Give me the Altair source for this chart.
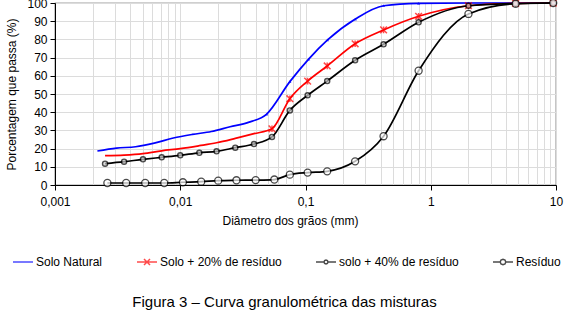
import altair as alt
import pandas as pd

FONT = "Liberation Sans"

series_names = ["Solo Natural", "Solo + 20% de resíduo", "solo + 40% de resíduo", "Resíduo"]
series_colors = ["#0000FF", "#FF0000", "#000000", "#000000"]

# Solo Natural
natural_x = [0.00218, 0.0031, 0.0044, 0.0062, 0.0088, 0.0125, 0.0177, 0.025, 0.035, 0.049,
             0.075, 0.106, 0.15, 0.25, 0.42, 0.80, 2.0, 4.76, 9.5]
natural_y = [18.7, 20.3, 21.0, 23.0, 25.8, 27.8, 29.4, 32.0, 34.4, 39.0,
             56.8, 69.2, 79.7, 91.2, 98.5, 99.8, 100, 100, 100]

# Solo + 20% de resíduo
s20_x = [0.00251, 0.00356, 0.00504, 0.00711, 0.0100, 0.0142, 0.0195, 0.0275, 0.0388, 0.054,
         0.075, 0.104, 0.149, 0.249, 0.42, 0.80, 2.0, 4.76, 9.5]
s20_y = [16.1, 16.4, 17.2, 18.8, 20.0, 21.6, 23.2, 25.6, 28.2, 30.9,
         47.4, 57.1, 65.4, 77.6, 85.2, 92.7, 98.5, 99.8, 100]

# solo + 40% de resíduo
s40_x = [0.00251, 0.00356, 0.00504, 0.00711, 0.0100, 0.0142, 0.0195, 0.0275, 0.0388, 0.054,
         0.075, 0.104, 0.149, 0.249, 0.42, 0.80, 2.0, 4.76, 9.5]
s40_y = [11.7, 12.8, 14.1, 15.2, 16.3, 17.7, 18.5, 20.5, 22.5, 26.4,
         41.0, 49.3, 57.1, 68.5, 77.3, 89.4, 98.5, 99.7, 100]

# Resíduo
res_x = [0.00262, 0.0037, 0.00525, 0.00745, 0.0105, 0.0147, 0.0201, 0.0281, 0.040, 0.0564,
         0.075, 0.104, 0.149, 0.249, 0.42, 0.80, 2.0, 4.76, 9.5]
res_y = [1.1, 1.1, 1.1, 1.1, 1.5, 1.8, 2.4, 2.6, 2.7, 3.0,
         5.7, 6.8, 7.5, 13.0, 26.8, 62.8, 94.0, 99.6, 100]

x_decades = [0.001, 0.01, 0.1, 1, 10]
x_decade_labels = ["0,001", "0,01", "0,1", "1", "10"]
y_ticks = [0, 10, 20, 30, 40, 50, 60, 70, 80, 90, 100]

x_title = "Diâmetro dos grãos (mm)"
y_title = "Porcentagem que passa  (%)"
caption = "Figura 3 – Curva granulométrica das misturas"

rows = []
for name, xs, ys in zip(series_names, [natural_x, s20_x, s40_x, res_x],
                        [natural_y, s20_y, s40_y, res_y]):
    for i, (x, y) in enumerate(zip(xs, ys)):
        rows.append({"serie": name, "d": x, "p": y, "ordem": i})
df = pd.DataFrame(rows)

# grid positions (minor log ticks)
grid_vals = []
for dec in x_decades[:-1]:
    for k in range(1, 10):
        grid_vals.append(round(dec * k, 6))
grid_vals.append(x_decades[-1])

label_expr = " : ".join(
    [f"abs(datum.value - {v}) < {v}*1e-6 ? '{lab}'" for v, lab in zip(x_decades, x_decade_labels)]
) + " : ''"
decade_test = " || ".join([f"abs(datum.value - {v}) < {v}*1e-6" for v in x_decades])

xscale = alt.Scale(type="log", domain=[0.001, 10], nice=False)
yscale = alt.Scale(domain=[0, 100], nice=False)

x_enc = alt.X("d:Q", scale=xscale, title=x_title,
              axis=alt.Axis(values=grid_vals, labelExpr=label_expr, labelOverlap=False,
                            labelFlush=False, tickSize=5,
                            tickOpacity={"condition": {"test": decade_test, "value": 1}, "value": 0},
                            labelPadding=6, titlePadding=8, titleX=235, titleAlign="center"))
y_enc = alt.Y("p:Q", scale=yscale, title=y_title,
              axis=alt.Axis(values=y_ticks, tickSize=5, labelPadding=3, titlePadding=8))

legend_shapes = [
    "M-1,0H1",
    "M-1,0H1M-0.3,-0.3L0.3,0.3M-0.3,0.3L0.3,-0.3",
    "M-1,0H-0.2M0.2,0H1M-0.2,0L-0.14,-0.14L0,-0.2L0.14,-0.14L0.2,0L0.14,0.14L0,0.2L-0.14,0.14Z",
    "M-1,0H-0.28M0.28,0H1M-0.28,0L-0.2,-0.2L0,-0.28L0.2,-0.2L0.28,0L0.2,0.2L0,0.28L-0.2,0.2Z",
]

legend_def = alt.Legend(title=None, orient="none", legendX=-43, legendY=248,
                        direction="horizontal", columnPadding=31,
                        symbolSize=400, symbolStrokeWidth=1.5,
                        symbolFillColor="white",
                        labelOffset=2, labelFontSize=12, labelFont=FONT,
                        labelColor="black")

stroke_enc = alt.Stroke("serie:N", scale=alt.Scale(domain=series_names, range=series_colors),
                        legend=legend_def)

base = alt.Chart(df)

lines = base.mark_line(interpolate="monotone", strokeWidth=1.7).encode(
    x=x_enc, y=y_enc,
    stroke=stroke_enc,
    order="ordem:Q",
    detail="serie:N",
)

star_path = "M-1,-1L1,1M-1,1L1,-1M0,-1L0,1"

pts_nat = base.mark_point(shape="triangle-up", size=10, filled=True, color="#0000FF").encode(
    x=x_enc, y=y_enc).transform_filter(
    f"datum.serie == '{series_names[0]}' && datum.d > 0.045")
pts_20 = base.mark_point(shape=star_path, size=45, filled=False, color="#FF0000", strokeWidth=1.5).encode(
    x=x_enc, y=y_enc).transform_filter(
    f"datum.serie == '{series_names[1]}' && datum.d > 0.045")
pts_40 = base.mark_point(shape="circle", size=26, filled=True, fill="#cccccc", stroke="black",
                         strokeWidth=1.4).encode(
    x=x_enc, y=y_enc).transform_filter(f"datum.serie == '{series_names[2]}'")
pts_res = base.mark_point(shape="circle", size=50, filled=True, fill="white", stroke="black",
                          strokeWidth=1.3).encode(
    x=x_enc, y=y_enc).transform_filter(f"datum.serie == '{series_names[3]}'")

legend_layer = base.mark_point(filled=False).encode(
    x=x_enc, y=y_enc,
    stroke=stroke_enc,
    shape=alt.Shape("serie:N", scale=alt.Scale(domain=series_names, range=legend_shapes)),
).transform_filter("datum.p < 0")

chart = alt.layer(lines, pts_nat, pts_20, pts_40, pts_res, legend_layer).properties(
    width=501, height=182,
    title=alt.Title(caption, orient="bottom", anchor="middle", fontSize=15, font=FONT,
                    fontWeight="normal", color="black", offset=27, dx=-21),
    autosize=alt.AutoSizeParams(type="none"),
    padding={"left": 55, "top": 3, "right": 17, "bottom": 129},
).configure_view(stroke="#404040", strokeWidth=1.2).configure_axis(
    labelFont=FONT, titleFont=FONT, labelFontSize=12, titleFontSize=12,
    labelColor="black", titleColor="black", titleFontWeight="normal",
    domainColor="black", tickColor="black", gridColor="#dcdcdc", gridWidth=1,
)

chart.save("out.html", embed_options={"renderer": "svg", "actions": False})
